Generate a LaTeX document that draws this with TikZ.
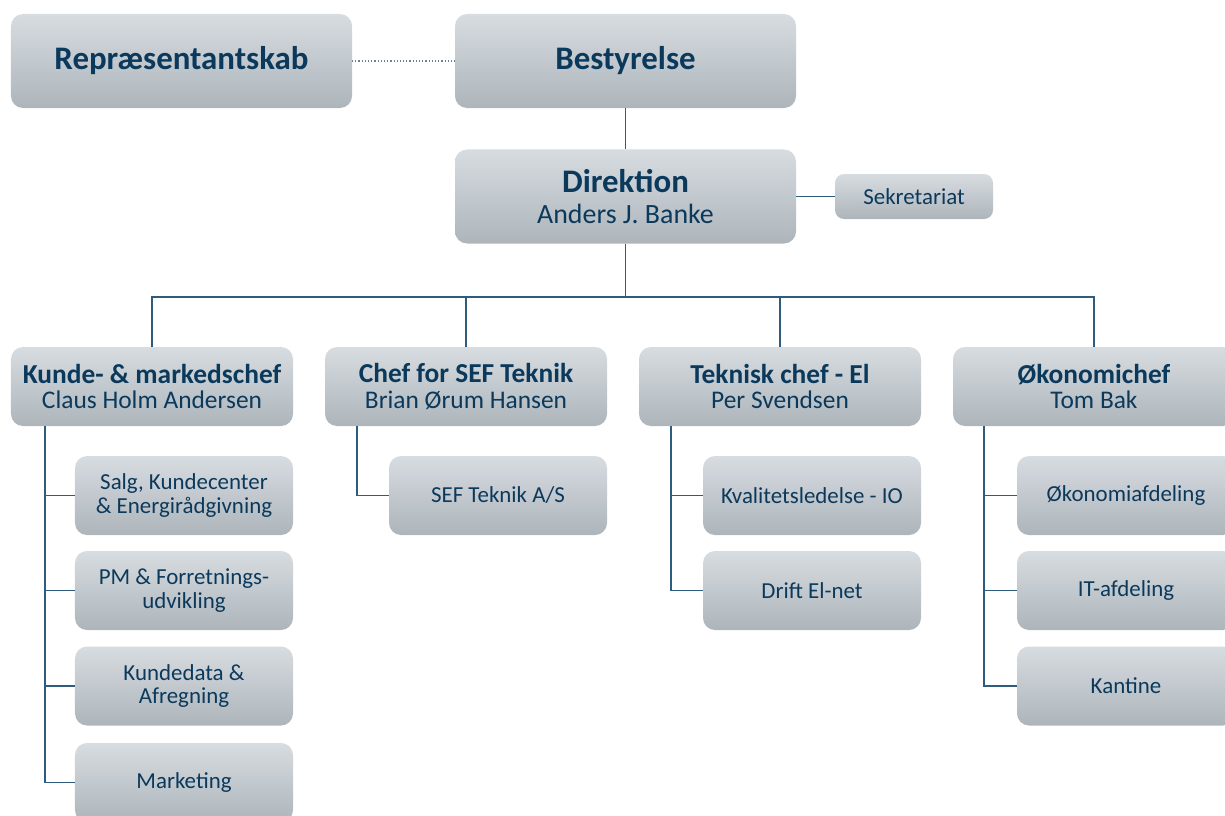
\documentclass[tikz,border=0pt]{standalone}
\usepackage{fontspec}
\setmainfont{Carlito}
\definecolor{txt}{HTML}{0B395C}
\definecolor{ln}{HTML}{2F5B7C}
\definecolor{boxtop}{HTML}{D7DCE0}
\definecolor{boxbot}{HTML}{ADB5BB}
\tikzset{
  box/.style={rounded corners=12bp, top color=boxtop, bottom color=boxbot, draw=none,
    inner sep=0pt, align=center, text=txt, outer sep=0pt},
  topbox/.style={box, minimum width=341bp, minimum height=94bp},
  midbox/.style={box, minimum width=282bp, minimum height=79bp},
  subbox/.style={box, minimum width=218bp, minimum height=79bp},
  smallbox/.style={box, rounded corners=9bp, minimum width=158bp, minimum height=45bp},
  conn/.style={draw=ln, line width=1.4bp},
  big/.style={font=\fontsize{33}{36}\selectfont\bfseries},
  head/.style={font=\fontsize{25.5}{26}\selectfont},
  subtxt/.style={font=\fontsize{23}{23.5}\selectfont},
}
\newcommand{\hd}[1]{{\fontsize{27.5}{26}\selectfont\bfseries #1}}
\begin{document}
\begin{tikzpicture}[x=1bp,y=-1bp]
\useasboundingbox (0,0) rectangle (1225,816);
% top
\node[topbox,big] (rep) at (181.5,61) {Repræsentantskab};
\node[topbox,big] (best) at (625.5,61) {Bestyrelse};
\node[topbox,font=\fontsize{28}{32}\selectfont] (dir) at (625.5,196.5) {{\fontsize{33}{32}\selectfont\bfseries Direktion}\\Anders J. Banke};
\node[smallbox,font=\fontsize{23}{24}\selectfont] (sek) at (914,196.5) {Sekretariat};
% middle
\node[midbox,head] (kunde) at (152,386.5) {\hd{Kunde- \& markedschef}\\Claus Holm Andersen};
\node[midbox,head] (sef) at (466,386.5) {\hd{Chef for SEF Teknik}\\Brian Ørum Hansen};
\node[midbox,head] (tek) at (780,386.5) {\hd{Teknisk chef - El}\\Per Svendsen};
\node[midbox,head] (oko) at (1094,386.5) {\hd{Økonomichef}\\Tom Bak};
% children
\node[subbox,subtxt] (k1) at (184,495.5) {Salg, Kundecenter\\\& Energirådgivning};
\node[subbox,subtxt] (k2) at (184,590.5) {PM \& Forretnings-\\udvikling};
\node[subbox,subtxt] (k3) at (184,686) {Kundedata \&\\Afregning};
\node[subbox,subtxt] (k4) at (184,782.5) {Marketing};
\node[subbox,subtxt] (s1) at (498,495.5) {SEF Teknik A/S};
\node[subbox,subtxt] (t1) at (812,495.5) {Kvalitetsledelse - IO};
\node[subbox,subtxt] (t2) at (812,590.5) {Drift El-net};
\node[subbox,subtxt] (o1) at (1126,495.5) {Økonomiafdeling};
\node[subbox,subtxt] (o2) at (1126,590.5) {IT-afdeling};
\node[subbox,subtxt] (o3) at (1126,686) {Kantine};
% connectors
\draw[draw=ln!75, line width=1.2bp, dotted] (rep.east) -- (best.west);
\draw[conn] (best.south) -- (dir.north);
\draw[conn] (dir.east) -- (sek.west);
\coordinate (bus) at (625.5,297);
\draw[conn] (dir.south) -- (bus);
\draw[conn] (kunde.north) |- (bus);
\draw[conn] (oko.north) |- (bus);
\draw[conn] (sef.north) -- (sef.north |- bus);
\draw[conn] (tek.north) -- (tek.north |- bus);
% child lines
\coordinate (kl) at ([xshift=34bp]kunde.south west);
\draw[conn] (kl) |- (k4.west);
\draw[conn] (k1.west) -- (k1.west -| kl);
\draw[conn] (k2.west) -- (k2.west -| kl);
\draw[conn] (k3.west) -- (k3.west -| kl);
\coordinate (sl) at ([xshift=32bp]sef.south west);
\draw[conn] (sl) |- (s1.west);
\coordinate (tl) at ([xshift=32bp]tek.south west);
\draw[conn] (tl) |- (t2.west);
\draw[conn] (t1.west) -- (t1.west -| tl);
\coordinate (ol) at ([xshift=31bp]oko.south west);
\draw[conn] (ol) |- (o3.west);
\draw[conn] (o1.west) -- (o1.west -| ol);
\draw[conn] (o2.west) -- (o2.west -| ol);
\end{tikzpicture}
\end{document}
